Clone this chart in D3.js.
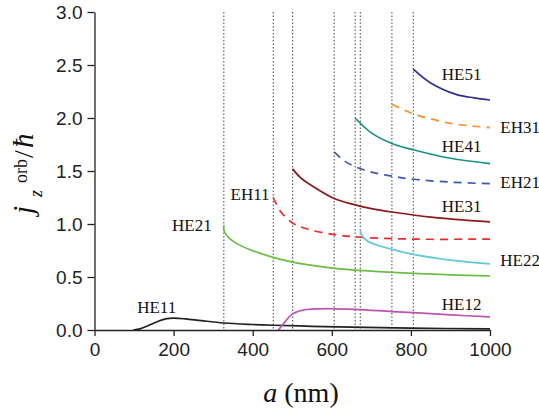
<!DOCTYPE html>
<html><head><meta charset="utf-8">
<script src="https://cdn.jsdelivr.net/npm/d3@7"></script>
<style>body{margin:0;background:#fff}</style>
</head><body>
<svg id="c" width="539" height="414"></svg>
<script>
// ---- data ----
const xTicks = [0, 200, 400, 600, 800, 1000];
const yTicks = [0, 0.5, 1.0, 1.5, 2.0, 2.5, 3.0];
const cutoffs = [327, 452, 501, 606, 659, 672, 752, 806];

const HE11 = [[98,0],[115,0.01],[135,0.04],[160,0.08],[180,0.105],[200,0.112],[230,0.105],[270,0.088],[327,0.066],[400,0.052],[452,0.045],[550,0.035],[650,0.027],[800,0.018],[1000,0.01]];
const HE21 = [[327,0.99],[328,0.93],[340,0.87],[360,0.815],[400,0.748],[452,0.685],[501,0.64],[606,0.582],[700,0.556],[752,0.545],[806,0.535],[900,0.52],[1000,0.51]];
const EH11 = [[452,1.25],[470,1.12],[501,1.01],[540,0.95],[606,0.9],[672,0.875],[752,0.862],[850,0.856],[1000,0.858]];
const HE31 = [[501,1.52],[520,1.44],[550,1.36],[606,1.24],[659,1.18],[700,1.145],[752,1.113],[850,1.065],[1000,1.02]];
const EH21 = [[606,1.68],[630,1.6],[659,1.54],[700,1.49],[752,1.452],[806,1.422],[900,1.395],[1000,1.38]];
const HE41 = [[659,2.0],[700,1.86],[752,1.76],[806,1.70],[900,1.62],[1000,1.57]];
const HE22 = [[672,0.95],[675,0.9],[690,0.84],[720,0.795],[752,0.762],[806,0.714],[900,0.66],[1000,0.623]];
const EH31 = [[752,2.13],[780,2.08],[806,2.04],[900,1.95],[1000,1.91]];
const HE51 = [[806,2.46],[850,2.33],[916,2.22],[960,2.19],[1000,2.17]];
const HE12 = [[465,0],[480,0.07],[500,0.15],[530,0.19],[570,0.2],[606,0.2],[659,0.195],[752,0.174],[806,0.163],[900,0.143],[1000,0.123]];

const series = [
  {name:"HE11", data:HE11, color:"#222222", dash:null},
  {name:"HE21", data:HE21, color:"#6cbf45", dash:null},
  {name:"EH11", data:EH11, color:"#ee2b2b", dash:"8,6"},
  {name:"HE31", data:HE31, color:"#8a1a1a", dash:null},
  {name:"EH21", data:EH21, color:"#3b5bb5", dash:"8,6"},
  {name:"HE41", data:HE41, color:"#1a9088", dash:null},
  {name:"HE22", data:HE22, color:"#62c8dc", dash:null},
  {name:"EH31", data:EH31, color:"#f7902a", dash:"8,6"},
  {name:"HE51", data:HE51, color:"#2b2f8f", dash:null},
  {name:"HE12", data:HE12, color:"#c052b0", dash:null}
];
// label anchor points in data units (x nm, y value at baseline)
const labels = [
  {t:"HE11", x:108, y:0.16},
  {t:"HE21", x:196, y:0.93},
  {t:"EH11", x:344, y:1.23},
  {t:"HE51", x:878, y:2.36},
  {t:"EH31", x:1026, y:1.86},
  {t:"HE41", x:878, y:1.68},
  {t:"EH21", x:1026, y:1.34},
  {t:"HE31", x:878, y:1.11},
  {t:"HE22", x:1026, y:0.6},
  {t:"HE12", x:878, y:0.19}
];

// ---- chart ----
const svg = d3.select("#c");
const x = d3.scaleLinear().domain([0,1000]).range([94.5,490]);
const y = d3.scaleLinear().domain([0,3]).range([330,12]);

// cutoff dotted lines
svg.append("g").selectAll("line").data(cutoffs).join("line")
  .attr("x1", d=>x(d)).attr("x2", d=>x(d))
  .attr("y1", y(3)).attr("y2", y(0))
  .attr("stroke","#444").attr("stroke-width",1).attr("stroke-dasharray","1.5,2");

const line = d3.line().x(d=>x(d[0])).y(d=>y(d[1])).curve(d3.curveCatmullRom.alpha(0.5));
svg.append("g").selectAll("path").data(series).join("path")
  .attr("d", d=>line(d.data))
  .attr("fill","none")
  .attr("stroke", d=>d.color)
  .attr("stroke-width",1.7)
  .attr("stroke-dasharray", d=>d.dash);

// axes
const xa = svg.append("g").attr("transform",`translate(0,${y(0)})`)
  .call(d3.axisBottom(x).tickValues(xTicks).tickSize(6).tickPadding(7).tickSizeOuter(0).tickFormat(d3.format("d")));
const ya = svg.append("g").attr("transform",`translate(${x(0)},0)`)
  .call(d3.axisLeft(y).tickValues(yTicks).tickSize(7).tickPadding(5).tickSizeOuter(0).tickFormat(d3.format(".1f")));
[xa,ya].forEach(g=>{
  g.selectAll("path,line").attr("stroke","#222").attr("stroke-width",1.3);
  g.selectAll("text").attr("font-family","'Liberation Sans',Arial,sans-serif").attr("font-size",19).attr("fill","#222");
});

// curve labels
svg.append("g").selectAll("text").data(labels).join("text")
  .attr("x", d=>x(d.x)).attr("y", d=>y(d.y))
  .attr("font-family","'Liberation Serif','Times New Roman',serif")
  .attr("font-size",17).attr("fill","#111")
  .text(d=>d.t);

// x axis title
const xt = svg.append("text").attr("x",301).attr("y",402).attr("text-anchor","middle")
  .attr("font-family","'Liberation Serif','Times New Roman',serif").attr("font-size",28).attr("fill","#111");
xt.append("tspan").attr("font-style","italic").text("a");
xt.append("tspan").text(" (nm)");

// y axis title (rotated)
const yg = svg.append("g").attr("transform","translate(33,170) rotate(-90)")
  .attr("font-family","'Liberation Serif','Times New Roman',serif").attr("fill","#111");
yg.append("text").attr("x",-44).attr("y",0).attr("font-size",29).attr("font-style","italic").text("j");
yg.append("text").attr("x",-27).attr("y",9).attr("font-size",18).attr("font-style","italic").text("z");
yg.append("text").attr("x",-13).attr("y",-6).attr("font-size",18).text("orb");
yg.append("text").attr("x",12).attr("y",0).attr("font-size",28).text("/");
yg.append("text").attr("x",22).attr("y",0).attr("font-size",29).attr("font-style","italic").text("ħ");
</script>
</body></html>
